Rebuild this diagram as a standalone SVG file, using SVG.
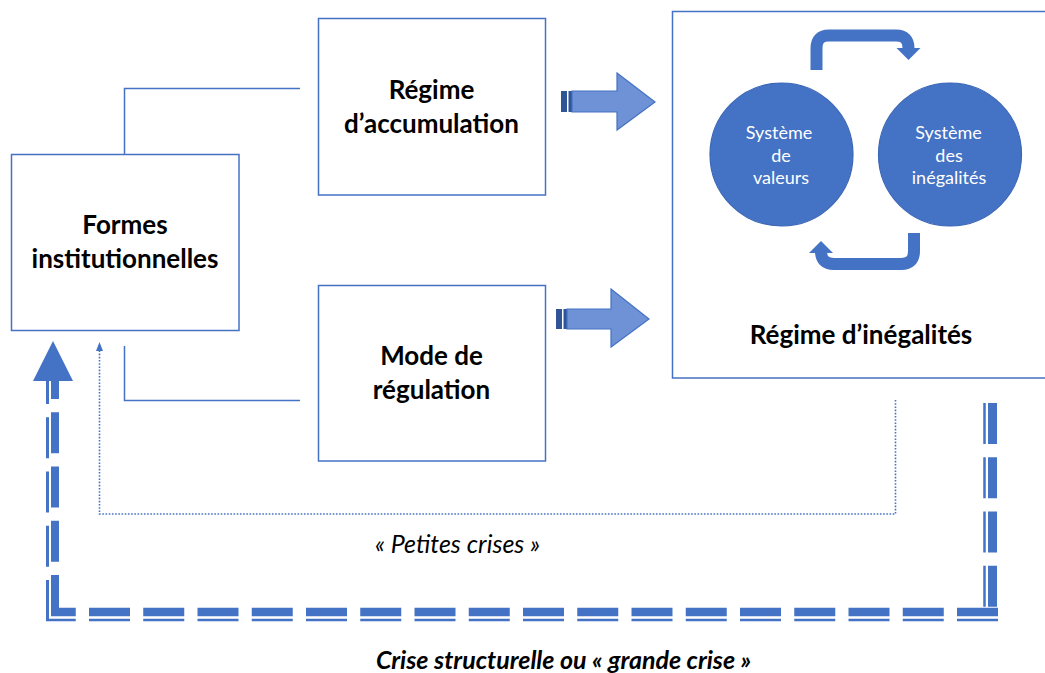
<svg xmlns="http://www.w3.org/2000/svg" width="1045" height="673" viewBox="0 0 1045 673">
<defs>
<style>
.box{fill:#ffffff;stroke:#4472c4;stroke-width:1.5}
.lbl{font-family:Lato,"Open Sans","Liberation Sans",sans-serif;font-weight:bold;font-size:26px;fill:#000;text-anchor:middle}
.ctext{font-family:Lato,"Open Sans","Liberation Sans",sans-serif;font-size:18px;fill:#fff;text-anchor:middle}
.circ{fill:#4472c4;stroke:#3a66b6;stroke-width:1.2}
.conn{fill:none;stroke:#4472c4;stroke-width:1.5}
.dot{fill:none;stroke:#4472c4;stroke-width:1.6;stroke-dasharray:1.6 1.6}
.big{fill:#6f92d7;stroke:#4472c4;stroke-width:1.2}
.stripe{fill:#2f5597}
.curve{fill:none;stroke:#4472c4;stroke-width:12}
.ah{fill:#4472c4}
.thk{fill:none;stroke:#4472c4;stroke-dasharray:41 13.25}
.cap{font-family:Lato,"Open Sans","Liberation Sans",sans-serif;font-style:italic;fill:#000;text-anchor:middle}
</style>
</defs>

<g id="formes">
  <rect class="box" x="11.5" y="154.5" width="227.5" height="176"/>
  <text class="lbl" x="125" y="234">Formes</text>
  <text class="lbl" x="125" y="268">institutionnelles</text>
</g>

<g id="accumulation">
  <rect class="box" x="318.5" y="18.5" width="227" height="176.5"/>
  <text class="lbl" x="431.5" y="99">Régime</text>
  <text class="lbl" x="431.5" y="133">d’accumulation</text>
</g>

<g id="regulation">
  <rect class="box" x="318.5" y="285.5" width="227" height="175.5"/>
  <text class="lbl" x="431.5" y="365">Mode de</text>
  <text class="lbl" x="431.5" y="399">régulation</text>
</g>

<g id="inegalites">
  <rect class="box" x="672.5" y="11.5" width="380" height="366.5"/>
  <text class="lbl" x="861" y="344">Régime d’inégalités</text>
</g>

<g id="valeurs">
  <circle class="circ" cx="781.5" cy="154.5" r="71.5"/>
  <text class="ctext" x="779" y="139">Système</text>
  <text class="ctext" x="781" y="161.5">de</text>
  <text class="ctext" x="781" y="184">valeurs</text>
</g>

<g id="systeme-inegalites">
  <circle class="circ" cx="950" cy="154.5" r="71.5"/>
  <text class="ctext" x="948.5" y="139">Système</text>
  <text class="ctext" x="949" y="161.5">des</text>
  <text class="ctext" x="949" y="184">inégalités</text>
</g>

<g id="connectors">
  <path class="conn" d="M124.5,154 V88.5 H300"/>
  <path class="conn" d="M124.5,346 V400.5 H300"/>
  <!-- Petites crises dotted loop -->
  <path class="dot" d="M895.5,400 V514 H99.5 V351"/>
  <polygon class="ah" points="99.5,342 103,351 96,351"/>
  <!-- Crise structurelle compound dashed line -->
  <path class="thk" stroke-width="9" d="M992.5,403 V607"/>
  <path class="thk" stroke-width="2.5" d="M984.5,403 V607"/>
  <path class="thk" stroke-width="8.5" d="M998,612 H51"/>
  <path class="thk" stroke-width="2.5" d="M998,620 H46"/>
  <path class="thk" stroke-width="8" d="M55,616 V380"/>
  <path class="thk" stroke-width="3" d="M47.5,621 V380"/>
  <polygon class="ah" points="53,341 73,381 33,381"/>
  <!-- big striped arrows -->
  <g id="arrow-top">
    <rect class="stripe" x="561" y="91" width="6" height="21"/>
    <rect class="stripe" x="568.5" y="91" width="3.5" height="21"/>
    <polygon class="big" points="572,91 617,91 617,73 655,102 617,130 617,112 572,112"/>
  </g>
  <g id="arrow-bottom">
    <rect class="stripe" x="556" y="309" width="6" height="20"/>
    <rect class="stripe" x="563.5" y="309" width="3.5" height="20"/>
    <polygon class="big" points="567,309 611,309 611,289 649,319 611,347 611,329 567,329"/>
  </g>
  <!-- cycle arrows -->
  <path class="curve" d="M816.5,70 V48 Q816.5,35.5 829,35.5 H896 Q908.5,35.5 908.5,48 V50"/>
  <polygon class="ah" points="896.5,48 920.5,48 908.5,60"/>
  <path class="curve" d="M914,233 V251 Q914,264 901,264 H834 Q821,264 821,251 V252"/>
  <polygon class="ah" points="809,253 833,253 821,241"/>
</g>

<text class="cap" x="457.5" y="553" font-size="25">« Petites crises »</text>
<text class="cap" x="563.5" y="669" font-size="25" font-weight="bold">Crise structurelle ou « grande crise »</text>
</svg>
